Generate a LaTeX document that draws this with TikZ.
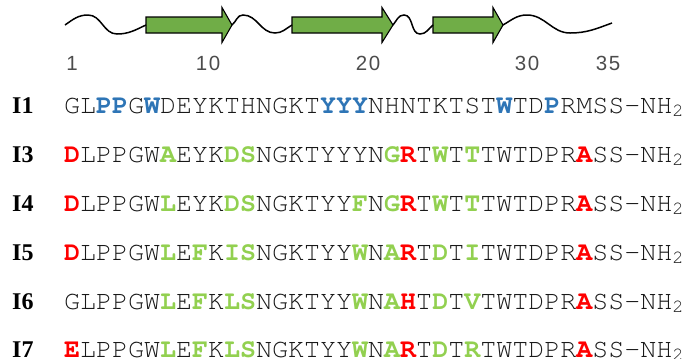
\documentclass[tikz,border=0pt]{standalone}
\usepackage{fontspec,xcolor}
\usetikzlibrary{positioning}
\newfontfamily\seqfont{TeX Gyre Cursor}
\newfontfamily\labfont{Liberation Serif}
\newfontfamily\numfont[LetterSpace=8]{Liberation Sans}
\definecolor{resblue}{RGB}{46,117,182}
\definecolor{resred}{RGB}{255,0,0}
\definecolor{resgreen}{RGB}{146,208,80}
\definecolor{strandgreen}{RGB}{112,173,71}
% highlighted residues
\newcommand{\resB}[1]{\textcolor{resblue}{\bfseries #1}}
\newcommand{\resR}[1]{\textcolor{resred}{\bfseries #1}}
\newcommand{\resG}[1]{\textcolor{resgreen}{\bfseries #1}}
\newcommand{\amide}{-NH\textsubscript{2}}

\begin{document}
\begin{tikzpicture}[x=1bp,y=-1bp,
      seq/.style={anchor=base west,inner sep=0,text=black!90,font=\seqfont\fontsize{26.67bp}{30bp}\selectfont},
      lab/.style={anchor=base west,inner sep=0,font=\labfont\bfseries\fontsize{24bp}{26bp}\selectfont},
      num/.style={anchor=base,inner sep=0,text=black!70,font=\numfont\fontsize{20.5bp}{24bp}\selectfont},
      strand/.style={draw=black,line width=1.1bp,fill=strandgreen,line join=miter},
      coil/.style={draw=black,line width=1.5bp}]
    \useasboundingbox (0,0) rectangle (684,358);
    % Secondary structure: beta strands
    \foreach \a/\b/\c/\n in {146/222/232/1,292/382/393/2,433/493/503/3}{
      \draw[strand] (\a,17) -- (\b,17) -- (\b,7.5) -- (\c,25) -- (\b,42.5) -- (\b,33) -- (\a,33) -- cycle;
      \coordinate (b\n s) at (\a,25);
      \coordinate (b\n e) at (\c,25);}
    \coordinate (cN) at (65,25);
    \coordinate (cC) at (612,23);
    % Coils between strands
    \draw[coil] (cN) to[out=35,in=180] (88,15) to[out=0,in=180] (117,34) to[out=0,in=205] (b1s);
    \draw[coil] (b1e) to[out=40,in=180] (243,15) to[out=0,in=180] (275,33) to[out=0,in=210] (b2s);
    \draw[coil] (b2e) to[out=50,in=180] (404,15) to[out=0,in=180] (420,34) to[out=0,in=220] (b3s);
    \draw[coil] (b3e) to[out=30,in=180] (527,15) to[out=0,in=180] (570,33) to[out=0,in=200] (cC);
    % Residue numbering
    \foreach \v/\x in {1/72,10/208,20/368,30/527,35/608}{\node[num] (n\v) at (\x,70) {\v};}
    % Sequences
    \node[lab] (l1) at (12,113)   {I1};
    \node[seq] (s1) at (64,113)   {GL\resB{PP}G\resB{W}DEYKTHNGKT\resB{YYY}NHNTKTST\resB{W}TD\resB{P}RMSS\amide};
    \node[lab] (l3) at (12,162)   {I3};
    \node[seq] (s3) at (64,162)   {\resR{D}LPPGW\resG{A}EYK\resG{DS}NGKTYYYN\resG{G}\resR{R}T\resG{W}T\resG{T}TWTDPR\resR{A}SS\amide};
    \node[lab] (l4) at (12,211)   {I4};
    \node[seq] (s4) at (64,211)   {\resR{D}LPPGW\resG{L}EYK\resG{DS}NGKTYY\resG{F}N\resG{G}\resR{R}T\resG{W}T\resG{T}TWTDPR\resR{A}SS\amide};
    \node[lab] (l5) at (12,260)   {I5};
    \node[seq] (s5) at (64,260)   {\resR{D}LPPGW\resG{L}E\resG{F}K\resG{IS}NGKTYY\resG{W}N\resG{A}\resR{R}T\resG{D}T\resG{I}TWTDPR\resR{A}SS\amide};
    \node[lab] (l6) at (12,309)   {I6};
    \node[seq] (s6) at (64,309)   {GLPPGW\resG{L}E\resG{F}K\resG{LS}NGKTYY\resG{W}N\resG{A}\resR{H}T\resG{D}T\resG{V}TWTDPR\resR{A}SS\amide};
    \node[lab] (l7) at (12,357) {I7};
    \node[seq] (s7) at (64,357) {\resR{E}LPPGW\resG{L}E\resG{F}K\resG{LS}NGKTYY\resG{W}N\resG{A}\resR{R}T\resG{D}T\resG{R}TWTDPR\resR{A}SS\amide};
  \end{tikzpicture}
\end{document}
